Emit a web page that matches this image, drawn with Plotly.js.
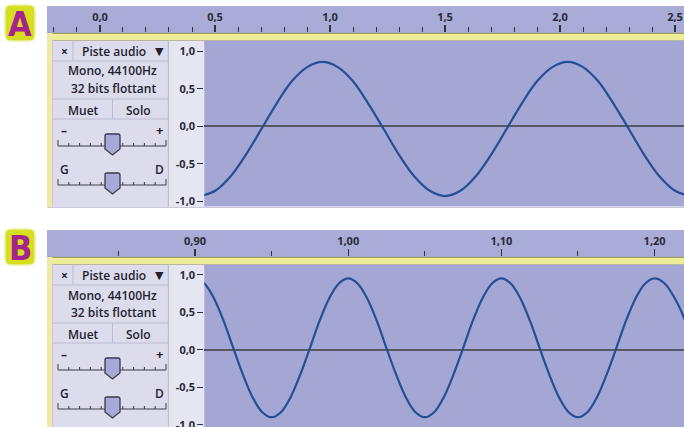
<!DOCTYPE html>
<html>
<head>
<meta charset="utf-8">
<script src="https://cdn.plot.ly/plotly-3.0.1.min.js"></script>
<style>
html,body{margin:0;padding:0;background:#fff;}
#chart{width:684px;height:427px;}
</style>
</head>
<body>
<div id="chart"></div>
<script>
// ---------- data ----------
// Panel A : time (s) and amplitude samples of the waveform
const timeA = [0.434, 0.501, 0.567, 0.634, 0.701, 0.767, 0.834, 0.901, 0.967, 1.034, 1.100, 1.167, 1.234, 1.300, 1.367, 1.434,
               1.500, 1.567, 1.633, 1.700, 1.767, 1.833, 1.900, 1.967, 2.033, 2.100, 2.166, 2.233, 2.300, 2.366, 2.433, 2.500, 2.566];
const ampA  = [-0.93, -0.86, -0.67, -0.38, -0.04, 0.30, 0.60, 0.79, 0.86, 0.79, 0.60, 0.30, -0.04, -0.38, -0.67, -0.86,
               -0.93, -0.86, -0.67, -0.38, -0.04, 0.30, 0.60, 0.79, 0.86, 0.79, 0.60, 0.30, -0.04, -0.38, -0.67, -0.86, -0.93];
// Panel B : time (s) and amplitude samples of the waveform
const timeB = [0.90000, 0.90625, 0.91250, 0.91875, 0.92500, 0.93125, 0.93750, 0.94375, 0.95000, 0.95625, 0.96250, 0.96875, 0.97500, 0.98125, 0.98750, 0.99375,
               1.00000, 1.00625, 1.01250, 1.01875, 1.02500, 1.03125, 1.03750, 1.04375, 1.05000, 1.05625, 1.06250, 1.06875, 1.07500, 1.08125, 1.08750, 1.09375,
               1.10000, 1.10625, 1.11250, 1.11875, 1.12500, 1.13125, 1.13750, 1.14375, 1.15000, 1.15625, 1.16250, 1.16875, 1.17500, 1.18125, 1.18750, 1.19375,
               1.20000, 1.20625, 1.21250, 1.21875, 1.22500];
const ampB  = [0.95, 0.88, 0.68, 0.38, 0.02, -0.33, -0.63, -0.83, -0.90, -0.83, -0.63, -0.33, 0.02, 0.38, 0.68, 0.88,
               0.95, 0.88, 0.68, 0.38, 0.02, -0.33, -0.63, -0.83, -0.90, -0.83, -0.63, -0.33, 0.02, 0.38, 0.68, 0.88,
               0.95, 0.88, 0.68, 0.38, 0.02, -0.33, -0.63, -0.83, -0.90, -0.83, -0.63, -0.33, 0.02, 0.38, 0.68, 0.88,
               0.95, 0.89, 0.71, 0.45, 0.10];
// amplitude axis ticks
const ampTicks = [-1, -0.5, 0, 0.5, 1];
const ampTickText = ['-1,0', '-0,5', '0,0', '0,5', '1,0'];
// panel labels and track panel texts
const panelLetters = ['A', 'B'];
const trackName = 'Piste audio';
const trackInfo1 = 'Mono, 44100Hz';
const trackInfo2 = '32 bits flottant';
const btnMute = 'Muet';
const btnSolo = 'Solo';
const gainLabels = ['–', '+'];
const panLabels = ['G', 'D'];

// ---------- helpers (pixel -> paper) ----------
const W = 684, H = 427;
const X = p => p / W;
const Y = p => 1 - p / H;
const FONT = 'Open Sans, Noto Sans, DejaVu Sans, sans-serif';
const shapes = [];
const annotations = [];

function rect(x0, y0, x1, y1, fill, line) {
  shapes.push({type: 'rect', xref: 'paper', yref: 'paper', layer: 'below',
    x0: X(x0), x1: X(x1), y0: Y(y1), y1: Y(y0),
    fillcolor: fill, line: line || {width: 0}});
}
function seg(x0, y0, x1, y1, color, w) {
  shapes.push({type: 'line', xref: 'paper', yref: 'paper', layer: 'below',
    x0: X(x0), x1: X(x1), y0: Y(y0), y1: Y(y1),
    line: {color: color, width: w || 1}});
}
function path(pts, fill, line) {
  let d = '';
  pts.forEach((p, i) => {
    if (p[0] === 'Q') {
      d += ' Q' + X(p[1]) + ',' + Y(p[2]) + ' ' + X(p[3]) + ',' + Y(p[4]);
    } else {
      d += (i === 0 ? 'M' : ' L') + X(p[0]) + ',' + Y(p[1]);
    }
  });
  d += ' Z';
  shapes.push({type: 'path', xref: 'paper', yref: 'paper', layer: 'above', path: d,
    fillcolor: fill, line: line || {width: 0}});
}
function txt(x, y, text, size, opts) {
  opts = opts || {};
  annotations.push({xref: 'paper', yref: 'paper', x: X(x), y: Y(y), text: text,
    showarrow: false, xanchor: opts.xanchor || 'center', yanchor: 'middle',
    font: {family: opts.family || FONT, size: size, color: opts.color || '#23232f',
      weight: opts.weight || 600}});
}
function roundRect(x0, y0, x1, y1, r, fill, line) {
  path([[x0 + r, y0], [x1 - r, y0], ['Q', x1, y0, x1, y0 + r], [x1, y1 - r], ['Q', x1, y1, x1 - r, y1],
        [x0 + r, y1], ['Q', x0, y1, x0, y1 - r], [x0, y0 + r], ['Q', x0, y0, x0 + r, y0]], fill, line);
}

// ---------- decoration of one panel (dy = vertical offset) ----------
const PLOT_BG = '#a4a7d4';
function drawPanel(dy, letter) {
  // badge
  roundRect(5, 5 + dy, 35, 41 + dy, 6, '#d6de20', {color: '#eef3a8', width: 1.5});
  txt(20, 24 + dy, letter, 34, {family: 'Liberation Sans Narrow, DejaVu Sans Condensed, sans-serif', weight: 700, color: '#a6238d'});
  // ruler band
  rect(47, 6 + dy, 684, 33 + dy, '#a9acd7');
  // yellow frame strip
  rect(47, 33 + dy, 684, 40.5 + dy, '#efeb99');
  seg(47, 33.3 + dy, 684, 33.3 + dy, '#8f8a5a', 1);
  seg(52, 40.5 + dy, 684, 40.5 + dy, '#b9b7a0', 1);
  // left frame
  rect(47, 33 + dy, 52.5, 208 + dy, '#eeeaa6');
  seg(52.5, 40.5 + dy, 52.5, 208 + dy, '#b7b6c6', 1);
  // control panel
  rect(52.5, 41 + dy, 168, 207 + dy, '#dcdcec');
  // label column
  rect(168, 41 + dy, 205, 207 + dy, '#e6e6f2');
  seg(168.3, 41 + dy, 168.3, 207 + dy, '#b4b4c8', 1);
  // plot background
  rect(204.3, 41 + dy, 684, 206.5 + dy, PLOT_BG);
  seg(47, 207.5 + dy, 684, 207.5 + dy, '#c9c9d8', 1);
  // control panel separators
  seg(52.5, 61 + dy, 168, 61 + dy, '#bcbcd0', 1);
  seg(73, 41 + dy, 73, 61 + dy, '#bcbcd0', 1);
  seg(52.5, 99 + dy, 168, 99 + dy, '#bcbcd0', 1);
  seg(52.5, 119 + dy, 168, 119 + dy, '#bcbcd0', 1);
  seg(112.5, 99 + dy, 112.5, 119 + dy, '#bcbcd0', 1);
  // texts
  txt(64, 51 + dy, '×', 12, {weight: 700});
  txt(114, 51 + dy, trackName, 12);
  txt(159.5, 51 + dy, '▼', 11, {family: 'DejaVu Sans, sans-serif', weight: 400});
  txt(112.5, 71 + dy, trackInfo1, 12);
  txt(113, 88 + dy, trackInfo2, 12);
  txt(83, 110 + dy, btnMute, 12);
  txt(138.5, 110 + dy, btnSolo, 12);
  txt(64, 130 + dy, gainLabels[0], 12, {weight: 700});
  txt(159, 130 + dy, gainLabels[1], 13, {weight: 700});
  txt(64, 169 + dy, panLabels[0], 12);
  txt(159, 169 + dy, panLabels[1], 12);
  // sliders
  [146, 185].forEach(ty => {
    const y = ty + dy;
    seg(58, y, 166, y, '#3c3c48', 1);
    for (let i = 0; i <= 10; i++) {
      const xx = 58 + i * 10.8;
      const h = (i === 0 || i === 10) ? 6 : 3;
      seg(xx, y, xx, y - h, '#3c3c48', 1);
    }
    const t = y - 12, b = y + 9;
    path([[105, t + 2], ['Q', 105, t, 107, t], [118, t], ['Q', 120, t, 120, t + 2], [120, b - 6], [112.5, b], [105, b - 6]],
         '#a7aad8', {color: '#3a3a48', width: 1.3});
    seg(108, y - 4, 117, y - 4, '#8083b9', 1);
    seg(108, y - 1, 117, y - 1, '#8083b9', 1);
  });
}
drawPanel(0, panelLetters[0]);
drawPanel(224, panelLetters[1]);

// ---------- axes ----------
const tickFont = {family: FONT, size: 11, color: '#2a2a38', weight: 700};
function rulerAxis(range, dtick, minorDtick, fmt, anchor) {
  return {domain: [X(47), 1], range: range, anchor: anchor, side: 'top',
    showgrid: false, zeroline: false, showline: false, fixedrange: true,
    ticks: 'outside', ticklen: 7, tickwidth: 1.2, tickcolor: '#333340',
    tick0: 0, dtick: dtick, tickformat: fmt, tickfont: tickFont,
    minor: {tick0: 0, dtick: minorDtick, ticks: 'outside', ticklen: 5, tickwidth: 1, tickcolor: '#333340', showgrid: false}};
}
function hiddenY(top, bottom, anchor) {
  return {domain: [Y(bottom), Y(top)], range: [0, 1], anchor: anchor, fixedrange: true,
    showgrid: false, zeroline: false, showline: false, showticklabels: false, ticks: ''};
}
function waveX(range, anchor) {
  return {domain: [X(204.3), 1], range: range, anchor: anchor, fixedrange: true,
    showgrid: false, zeroline: false, showline: false, showticklabels: false, ticks: ''};
}
function ampAxis(domain, range, anchor) {
  return {domain: domain, range: range, anchor: anchor, fixedrange: true,
    tickvals: ampTicks, ticktext: ampTickText, ticks: 'outside', ticklen: 6, tickwidth: 1.2,
    tickcolor: '#333340', tickfont: tickFont, showgrid: false, showline: false,
    ticklabeloverflow: 'allow',
    zeroline: true, zerolinecolor: '#565868', zerolinewidth: 2.2};
}

const layout = {
  width: W, height: H,
  margin: {l: 0, r: 0, t: 0, b: 0},
  paper_bgcolor: '#ffffff',
  plot_bgcolor: 'rgba(0,0,0,0)',
  separators: ', ',
  showlegend: false,
  shapes: shapes,
  annotations: annotations,
  // panel A ruler (seconds)
  xaxis: rulerAxis([-0.2304, 2.5391], 0.5, 0.1, '.1f', 'y'),
  yaxis: hiddenY(33, 40, 'x'),
  // panel A waveform
  xaxis2: waveX([0.4535, 2.5391], 'y2'),
  yaxis2: ampAxis([Y(206), Y(41.5)], [-1.063, 1.131], 'x2'),
  // panel B ruler (seconds)
  xaxis3: rulerAxis([0.8034, 1.2192], 0.1, 0.05, '.2f', 'y3'),
  yaxis3: hiddenY(257, 264, 'x3'),
  // panel B waveform
  xaxis4: waveX([0.90607, 1.2192], 'y4'),
  yaxis4: ampAxis([0, Y(265.5)], [-1.031, 1.123], 'x4')
};

const waveLine = {shape: 'spline', smoothing: 1, color: '#234f97', width: 2.2};
const data = [
  // empty traces so that the two ruler subplots exist
  {x: [], y: [], xaxis: 'x', yaxis: 'y', type: 'scatter', mode: 'lines', hoverinfo: 'skip'},
  {x: [], y: [], xaxis: 'x3', yaxis: 'y3', type: 'scatter', mode: 'lines', hoverinfo: 'skip'},
  {x: timeA, y: ampA, xaxis: 'x2', yaxis: 'y2', type: 'scatter', mode: 'lines', line: waveLine, hoverinfo: 'skip'},
  {x: timeB, y: ampB, xaxis: 'x4', yaxis: 'y4', type: 'scatter', mode: 'lines', line: waveLine, hoverinfo: 'skip'}
];

Plotly.newPlot('chart', data, layout, {staticPlot: true, displayModeBar: false});
</script>
</body>
</html>
